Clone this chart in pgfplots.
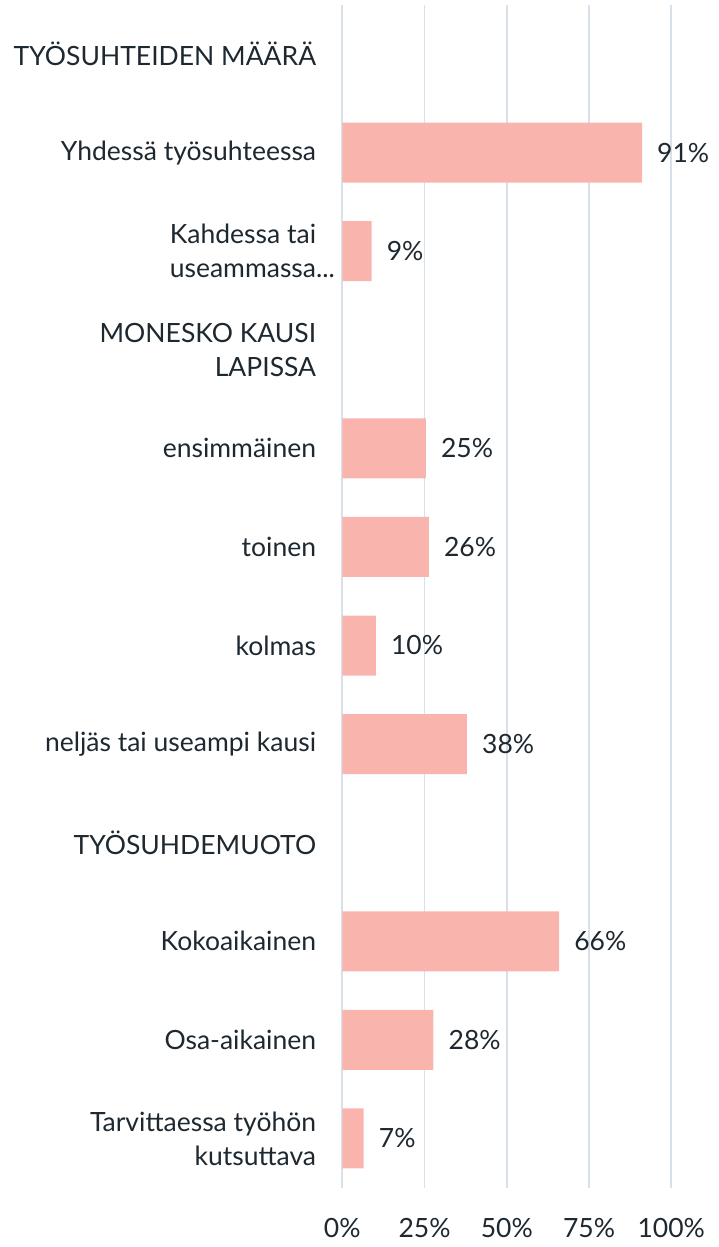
\documentclass[border=0pt]{standalone}
\usepackage{fontspec}
\setmainfont{Lato}
\usepackage{pgfplots}
\usepackage{pgfplotstable}
\pgfplotsset{compat=1.18}
\definecolor{barc}{RGB}{250,180,174}
\definecolor{gridc}{RGB}{216,225,234}
\definecolor{txt}{RGB}{30,40,48}
\pgfplotstableread{
y x lab
1 91.1 91
2 8.9 9
4 25.4 25
5 26.3 26
6 10.2 10
7 37.9 38
9 65.9 66
10 27.7 28
11 6.5 7
}\datatab
\begin{document}
\begin{tikzpicture}
\begin{axis}[
  at={(0,0)}, anchor=south west,
  scale only axis, width=329pt, height=1183pt,
  xmin=0, xmax=100, ymin=-0.5, ymax=11.5, y dir=reverse,
  axis line style={draw=none},
  major tick length=0pt,
  xtick={0,25,50,75,100},
  xticklabels={0\%,25\%,50\%,75\%,100\%},
  xmajorgrids, major grid style={gridc, line width=1.8pt},
  ytick={0,...,11},
  yticklabels={
    TYÖSUHTEIDEN MÄÄRÄ,
    Yhdessä työsuhteessa,
    {Kahdessa tai\\useammassa\rlap{...}},
    {MONESKO KAUSI\\LAPISSA},
    ensimmäinen,
    toinen,
    kolmas,
    neljäs tai useampi kausi,
    TYÖSUHDEMUOTO,
    Kokoaikainen,
    Osa-aikainen,
    {Tarvittaessa työhön\\kutsuttava}},
  yticklabel style={font=\fontsize{26.5}{34}\selectfont, text=txt, align=right, anchor=east, inner sep=0pt, xshift=-26pt},
  xticklabel style={font=\fontsize{26.5}{34}\selectfont, text=txt, anchor=base, inner sep=0pt, yshift=-49.5pt},
  xbar, bar width=60pt,
  nodes near coords={\pgfplotspointmeta\%},
  point meta=explicit symbolic,
  every node near coord/.append style={font=\fontsize{26.5}{34}\selectfont, text=txt, anchor=west, inner sep=0pt, xshift=15pt},
]
\addplot[fill=barc, draw=none] table[x=x, y=y, meta=lab] {\datatab};
\end{axis}
\pgfresetboundingbox
\path[use as bounding box] (-342.3pt,-59.3pt) rectangle (375.7pt,1187.7pt);
\end{tikzpicture}
\end{document}
